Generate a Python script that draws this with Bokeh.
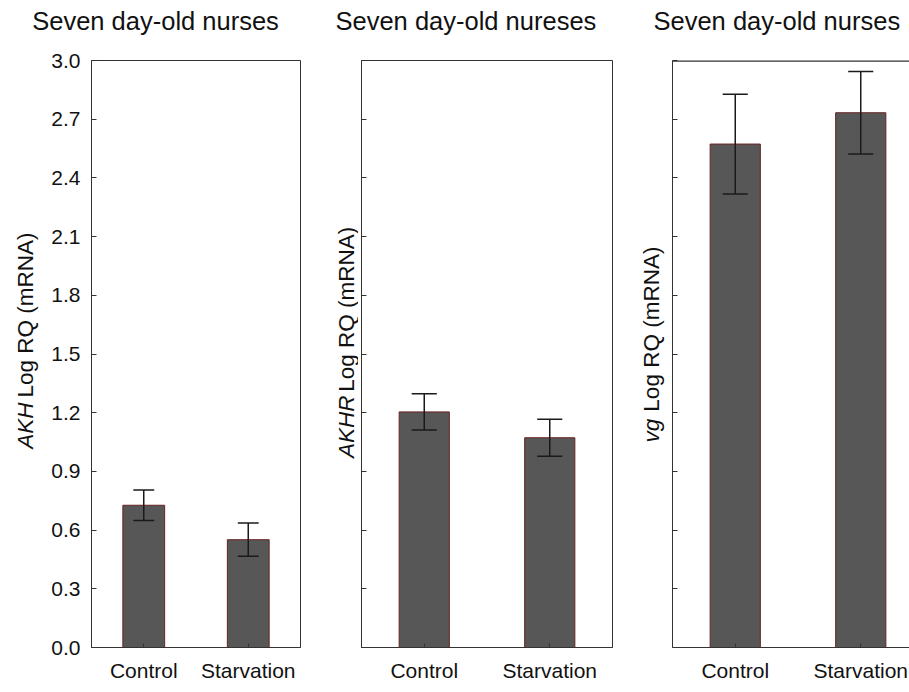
import math
from bokeh.plotting import figure
from bokeh.layouts import row, column
from bokeh.models import (Range1d, FixedTicker, PrintfTickFormatter, Label,
                          Span, ColumnDataSource, CustomJSTickFormatter)
from bokeh.embed import file_html
from bokeh.resources import INLINE

# ---------------- data ----------------
categories = ["Control", "Starvation"]
y_ticks = [0.0, 0.3, 0.6, 0.9, 1.2, 1.5, 1.8, 2.1, 2.4, 2.7, 3.0]
titles = ["Seven day-old nurses", "Seven day-old nureses", "Seven day-old nurses"]
genes = ["AKH", "AKHR", "vg"]
label_rest = "Log RQ (mRNA)"

akh_mean = [0.727, 0.551]
akh_err = [0.078, 0.085]
akhr_mean = [1.204, 1.072]
akhr_err = [0.093, 0.095]
vg_mean = [2.573, 2.733]
vg_err = [0.255, 0.211]

# ---------------- style ----------------
FONT = "Liberation Sans"
BAR_FILL = "#575757"
BAR_LINE = "#6a2222"
AX = "#333333"
TXT = "#111111"
TITLE_H = 40
ROW_H = 644
FRAME_TOP_PAGE = 60
FRAME_BOTTOM_PAGE = 653
YLAB_SIZE = 22.5


def blank(width, height):
    f = figure(width=width, height=height, x_range=Range1d(0, width),
               y_range=Range1d(0, height), output_backend="svg",
               toolbar_location=None, x_axis_type=None, y_axis_type=None,
               min_border=0)
    f.grid.visible = False
    f.outline_line_color = None
    f.border_fill_color = "white"
    f.background_fill_color = "white"
    return f


def label_fig(width, gene, cx, bottom_page, gene_em):
    f = blank(width, ROW_H)
    yb = ROW_H - (bottom_page - TITLE_H)
    gene_w = gene_em * YLAB_SIZE
    f.add_layout(Label(x=cx, y=yb, text=gene, angle=math.pi / 2,
                       text_font=FONT, text_font_size=f"{YLAB_SIZE}px",
                       text_font_style="italic", text_color=TXT,
                       text_align="left", text_baseline="middle"))
    f.add_layout(Label(x=cx, y=yb + gene_w + 10, text=label_rest,
                       angle=math.pi / 2, text_font=FONT,
                       text_font_size=f"{YLAB_SIZE}px", text_color=TXT,
                       text_align="left", text_baseline="middle"))
    return f


def make_panel(mean, err, width, bl, br, x_end, show_ticklabels, full_box):
    p = figure(width=width, height=ROW_H, x_range=Range1d(-0.5, x_end),
               y_range=Range1d(0, 3), output_backend="svg",
               toolbar_location=None, min_border_left=bl,
               min_border_right=br,
               min_border_top=FRAME_TOP_PAGE - TITLE_H,
               min_border_bottom=TITLE_H + ROW_H - FRAME_BOTTOM_PAGE)
    p.grid.visible = False
    p.background_fill_color = "white"
    p.border_fill_color = "white"

    xs = list(range(len(categories)))
    src = ColumnDataSource(dict(
        x=xs, top=mean,
        lo=[m - e for m, e in zip(mean, err)],
        hi=[m + e for m, e in zip(mean, err)],
        x0=[x - 0.1 for x in xs], x1=[x + 0.1 for x in xs]))
    p.vbar(x="x", top="top", bottom=0, width=0.4, source=src,
           fill_color=BAR_FILL, line_color=BAR_LINE, line_width=1)
    p.segment(x0="x", x1="x", y0="lo", y1="hi", source=src,
              line_color="#1a1a1a", line_width=1.5)
    p.segment(x0="x0", x1="x1", y0="hi", y1="hi", source=src,
              line_color="#1a1a1a", line_width=1.5)
    p.segment(x0="x0", x1="x1", y0="lo", y1="lo", source=src,
              line_color="#1a1a1a", line_width=1.5)

    ya = p.yaxis[0]
    ya.ticker = FixedTicker(ticks=y_ticks)
    if show_ticklabels:
        ya.formatter = PrintfTickFormatter(format="%.1f")
        ya.major_label_standoff = 11
    else:
        ya.formatter = CustomJSTickFormatter(code="return ''")
        ya.major_label_standoff = 0
    ya.major_tick_in = 5
    ya.major_tick_out = 0
    ya.minor_tick_line_color = None
    ya.major_label_text_font = FONT
    ya.major_label_text_font_size = "21px"
    ya.major_label_text_color = TXT
    ya.axis_line_color = AX
    ya.major_tick_line_color = AX

    xa = p.xaxis[0]
    xa.ticker = FixedTicker(ticks=xs)
    xa.major_label_overrides = {i: c for i, c in enumerate(categories)}
    xa.major_tick_in = 4
    xa.major_tick_out = 0
    xa.minor_tick_line_color = None
    xa.major_label_standoff = 11
    xa.major_label_text_font = FONT
    xa.major_label_text_font_size = "21px"
    xa.major_label_text_color = TXT
    xa.axis_line_color = AX
    xa.major_tick_line_color = AX

    if full_box:
        p.outline_line_color = AX
        p.outline_line_width = 1
        p.outline_line_alpha = 1
    else:
        p.outline_line_color = None
        p.add_layout(Span(location=3.0, dimension="width", line_color=AX,
                          line_width=2.5))
    return p


# title strip
tf = blank(909, TITLE_H)
for t, tx in zip(titles, [31.7, 335, 653]):
    tf.add_layout(Label(x=tx, y=TITLE_H - 20, text=t, text_font=FONT,
                        text_font_size="25.5px", text_color=TXT,
                        text_align="left", text_baseline="alphabetic"))

lab1 = label_fig(45, genes[0], 25, 466, 2.056)
p1 = make_panel(akh_mean, akh_err, width=265, bl=46, br=10, x_end=1.5,
                show_ticklabels=True, full_box=True)
lab2 = label_fig(48, genes[1], 36, 476, 2.778)
p2 = make_panel(akhr_mean, akhr_err, width=264, bl=3, br=10, x_end=1.5,
                show_ticklabels=False, full_box=True)
lab3 = label_fig(47, genes[2], 29, 459, 1.056)
p3 = make_panel(vg_mean, vg_err, width=240, bl=3, br=0,
                x_end=-0.5 + 237 / 125.5, show_ticklabels=False,
                full_box=False)

layout = column(tf, row(lab1, p1, lab2, p2, lab3, p3))
open("out.html", "w").write(file_html(layout, INLINE))
